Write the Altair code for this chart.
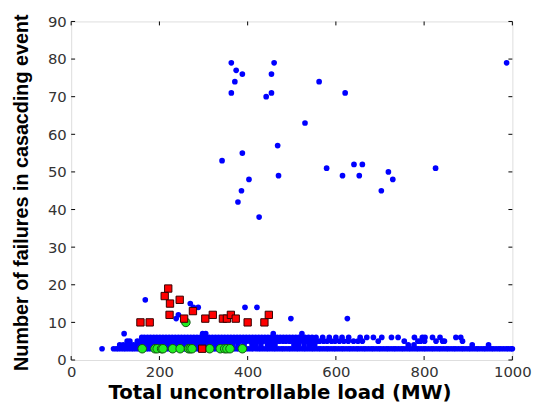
import altair as alt
import pandas as pd

# ---------------- data ----------------
# blue dots: dense rows at low failure counts
blue_row3_x = [70, 96, 102, 107, 113, 119, 124, 130, 136, 141, 147, 153, 158, 164, 170, 175, 181, 187,
               192, 198, 204, 209, 215, 221, 226, 232, 238, 243, 249, 255, 260, 266, 272, 277, 283, 289,
               294, 300, 306, 311, 317, 323, 328, 334, 340, 345, 351, 357, 362, 368, 374, 379, 385, 391,
               396, 402, 408, 413, 419, 425, 430, 436, 442, 447, 453, 459, 464, 470, 476, 481, 487, 493,
               498, 504, 510, 515, 521, 527, 532, 538, 544, 549, 555, 561, 566, 572, 578, 583, 589, 595,
               600, 606, 612, 617, 623, 629, 634, 640, 646, 651, 657, 663, 668, 674, 680, 685, 691, 697,
               702, 708, 714, 719, 725, 731, 736, 742, 748, 753, 759, 765, 770, 776, 782, 787, 793, 799,
               804, 810, 816, 821, 827, 833, 838, 844, 850, 855, 861, 867, 872, 878, 884, 889, 895, 901,
               906, 912, 918, 923, 929, 935, 940, 946, 952, 957, 963, 969, 974, 980, 986, 991, 997, 1000]
blue_row4_x = [110, 118, 126, 133, 141, 148, 156, 163, 171, 178, 186, 193, 201, 208, 216, 223, 231, 238,
               246, 253, 261, 268, 276, 283, 291, 298, 306, 313, 321, 328, 336, 343, 351, 358, 366, 378,
               392, 410, 418, 430, 445, 455, 462, 505, 515, 528, 540, 552, 764, 777, 909, 946]
blue_row5_x = [127, 133, 150, 157, 165, 172, 180, 187, 195, 202, 210, 217, 225, 232, 240, 247, 255, 262,
               270, 277, 285, 292, 300, 307, 315, 322, 330, 337, 345, 352, 360, 367, 375, 382, 390, 397,
               405, 412, 420, 427, 435, 442, 450, 457, 465, 472, 480, 487, 495, 502, 510, 517, 525, 532,
               540, 547, 556, 563, 572, 580, 590, 598, 608, 618, 628, 640, 650, 660, 696, 755, 786, 792,
               801, 827, 842, 846, 887]
blue_row6_x = [160, 166, 173, 180, 187, 194, 201, 208, 215, 222, 229, 236, 243, 250, 257, 264, 271, 278,
               285, 292, 299, 306, 313, 320, 327, 334, 341, 348, 355, 362, 369, 376, 383, 390, 397, 404,
               411, 418, 425, 432, 439, 446, 453, 460, 467, 474, 481, 488, 495, 502, 509, 516, 523, 530,
               538, 546, 555, 570, 585, 600, 614, 629, 655, 670, 685, 704, 726, 741, 778, 796, 802, 819,
               836, 872, 883]
blue_row7_x = [120, 298, 305, 458, 523]

# blue dots: scattered larger events
blue_high_x = [168, 270, 277, 288, 394, 421, 238, 243, 260, 498, 626,
               363, 374, 388, 371, 363, 460, 454, 454, 442, 530, 562, 621, 987,
               342, 388, 468, 403, 386, 378, 426, 470, 579, 615, 641, 660, 653, 703, 719, 729, 826]
blue_high_y = [16, 15, 14, 14, 14, 14, 11, 12, 10, 11, 11,
               79, 77, 76, 74, 71, 79, 76, 71, 70, 63, 74, 71, 79,
               53, 55, 57, 48, 45, 42, 38, 49, 51, 49, 52, 52, 49, 45, 50, 48, 51]

# red squares
red_x = [157, 178, 220, 212, 224, 246, 223, 256, 276, 297, 304, 321, 344, 353, 362, 373, 400, 438, 448]
red_y = [10, 10, 19, 17, 15, 16, 12, 11, 13, 3, 11, 12, 11, 11, 12, 11, 10, 10, 12]

# green circles
green_x = [161, 190, 195, 205, 208, 230, 247, 266, 270, 274, 314, 338, 348, 353, 360, 388, 260]
green_y = [3, 3, 3, 3, 3, 3, 3, 3, 3, 3, 3, 3, 3, 3, 3, 3, 10]

x_ticks = [0, 200, 400, 600, 800, 1000]
y_ticks = [0, 10, 20, 30, 40, 50, 60, 70, 80, 90]

# ---------------- tables ----------------
bx, by = [], []
for level, xs in [(3, blue_row3_x), (4, blue_row4_x), (5, blue_row5_x), (6, blue_row6_x), (7, blue_row7_x)]:
    bx += xs
    by += [level] * len(xs)
bx += blue_high_x
by += blue_high_y
blue_df = pd.DataFrame({"x": bx, "y": by})
red_df = pd.DataFrame({"x": red_x, "y": red_y})
green_df = pd.DataFrame({"x": green_x, "y": green_y})
xt_df = pd.DataFrame({"x": x_ticks})
yt_df = pd.DataFrame({"y": y_ticks})

W, H = 447, 343

xscale = alt.Scale(domain=[0, 1000], nice=False, zero=False)
yscale = alt.Scale(domain=[0, 90], nice=False, zero=False)

label_font = "DejaVu Sans"

x_axis = alt.Axis(values=x_ticks, format="d", ticks=False, tickSize=0, domain=False, grid=False,
                  labelFont=label_font, labelFontSize=15, labelColor="#333333",
                  labelPadding=5, labelFlush=False, labelOverlap=False,
                  title="Total uncontrollable load (MW)", titleFont="DejaVu Sans",
                  titleFontWeight="bold", titleFontSize=20, titleColor="black",
                  titleX=211, titleY=33, titleAlign="center", titleBaseline="middle")
y_axis = alt.Axis(values=y_ticks, format="d", ticks=False, tickSize=0, domain=False, grid=False,
                  labelFont=label_font, labelFontSize=15, labelColor="#333333",
                  labelPadding=5, labelFlush=False, labelOverlap=False,
                  title="Number of failures in casacding event",
                  titleFont="Liberation Sans, Arial",
                  titleFontWeight="bold", titleFontSize=20, titleColor="black",
                  titleAngle=270, titleX=-50, titleY=173, titleAlign="center",
                  titleBaseline="middle")

X = lambda: alt.X("x:Q", scale=xscale, axis=x_axis)
Y = lambda: alt.Y("y:Q", scale=yscale, axis=y_axis)

blue = alt.Chart(blue_df).mark_point(filled=True, shape="circle", size=33, color="#0000ff",
                                      opacity=1).encode(x=X(), y=Y())
green = alt.Chart(green_df).mark_point(filled=True, shape="circle", size=75, fill="#22ee22",
                                       stroke="#115511", strokeWidth=1, opacity=1).encode(x=X(), y=Y())
red = alt.Chart(red_df).mark_point(filled=True, shape="square", size=55, fill="#ff0000",
                                   stroke="#330000", strokeWidth=1, opacity=1).encode(x=X(), y=Y())

tl = 4
xt_bottom = alt.Chart(xt_df).mark_rule(color="black", strokeWidth=1).encode(
    x=X(), y=alt.value(H), y2=alt.value(H - tl))
xt_top = alt.Chart(xt_df).mark_rule(color="black", strokeWidth=1).encode(
    x=X(), y=alt.value(0), y2=alt.value(tl))
yt_left = alt.Chart(yt_df).mark_rule(color="black", strokeWidth=1).encode(
    y=Y(), x=alt.value(0), x2=alt.value(tl))
yt_right = alt.Chart(yt_df).mark_rule(color="black", strokeWidth=1).encode(
    y=Y(), x=alt.value(W), x2=alt.value(W - tl))

chart = alt.layer(blue, green, red, xt_bottom, xt_top, yt_left, yt_right).properties(
    width=W, height=H,
    autosize=alt.AutoSizeParams(type="none"),
    padding={"left": 64, "top": 11, "right": 28, "bottom": 46},
).configure_view(stroke="black", strokeWidth=1).configure(background="white")

chart.save("out.html", embed_options={"renderer": "svg", "actions": False})
